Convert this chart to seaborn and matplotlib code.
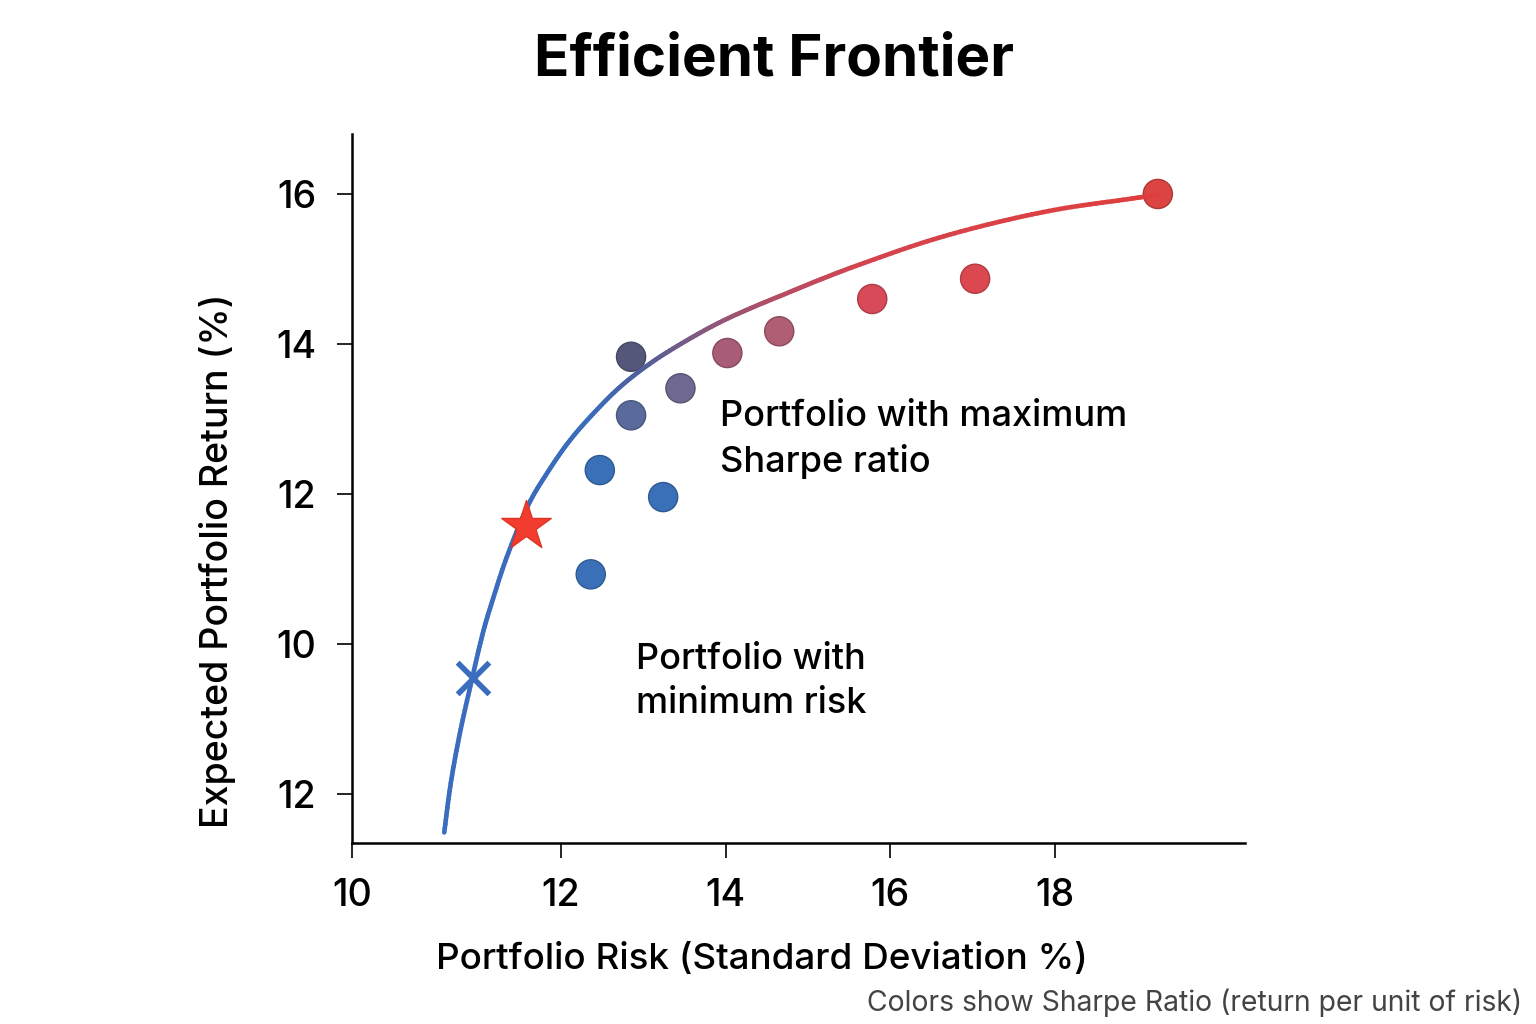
import numpy as np
import matplotlib
matplotlib.use("Agg")
import matplotlib.pyplot as plt
from matplotlib.collections import LineCollection
from matplotlib.colors import LinearSegmentedColormap, Normalize
from matplotlib.markers import MarkerStyle
import seaborn as sns

# ---------------- data ----------------
frontier_risk = [10.58, 10.66, 10.77, 10.92, 11.05, 11.16, 11.34, 11.59, 11.83,
                 12.11, 12.44, 12.75, 13.12, 13.53, 13.93, 14.33, 14.75, 15.15,
                 15.63, 16.45, 17.25, 18.06, 18.88, 19.25]
frontier_return = [7.49, 8.15, 8.81, 9.55, 10.15, 10.56, 11.16, 11.83, 12.28,
                   12.72, 13.13, 13.46, 13.77, 14.05, 14.29, 14.49, 14.68, 14.86,
                   15.06, 15.37, 15.61, 15.80, 15.93, 15.99]

portfolio_risk = [12.85, 13.45, 12.85, 12.47, 13.24, 12.36, 14.02, 14.65, 15.78, 17.03, 19.25]
portfolio_return = [13.83, 13.41, 13.05, 12.32, 11.96, 10.93, 13.88, 14.17, 14.60, 14.87, 16.00]
sharpe_score = [0.40, 0.50, 0.30, 0.00, 0.00, 0.00, 0.65, 0.72, 0.85, 0.92, 1.00]

max_sharpe_risk = [11.575]
max_sharpe_return = [11.57]
min_risk_risk = [10.93]
min_risk_return = [9.55]

x_ticks = [9.46, 12, 14, 16, 18]
x_tick_labels = ["10", "12", "14", "16", "18"]
y_ticks = [8, 10, 12, 14, 16]
y_tick_labels = ["12", "10", "12", "14", "16"]

title = "Efficient Frontier"
x_label = "Portfolio Risk (Standard Deviation %)"
y_label = "Expected Portfolio Return (%)"
note_max = "Portfolio with maximum\nSharpe ratio"
note_min = "Portfolio with\nminimum risk"
footer = "Colors show Sharpe Ratio (return per unit of risk)"

# ---------------- style ----------------
sns.set_theme(style="ticks")
plt.rcParams["font.family"] = ["Inter", "DejaVu Sans"]

fig = plt.figure(figsize=(15.36, 10.24), dpi=100)
fig.patch.set_facecolor("white")
ax = fig.add_axes([0.2292, 0.1768, 0.5814, 0.6924])
ax.set_facecolor("white")

# colour map for dots (Sharpe score)
dot_cmap = LinearSegmentedColormap.from_list(
    "sharpe",
    [(0.00, "#3a70b8"), (0.30, "#5a6a9c"), (0.40, "#55577a"), (0.50, "#6e6890"),
     (0.65, "#a85c78"), (0.72, "#b05e74"), (0.85, "#d84a58"), (0.92, "#dc4850"),
     (1.00, "#dc4444")])

sns.scatterplot(x=portfolio_risk, y=portfolio_return, hue=sharpe_score,
                palette=dot_cmap, hue_norm=(0, 1), s=440, linewidth=1.0,
                legend=False, ax=ax, zorder=3)
dots = ax.collections[-1]
fc = np.array(dots.get_facecolors())
ec = fc.copy()
ec[:, :3] = ec[:, :3] * 0.8
dots.set_edgecolors(ec)


# smooth rendering of the read frontier points (Catmull-Rom through them)
def smooth_path(xs, ys, steps=12):
    p = np.column_stack([xs, ys]).astype(float)
    p = np.vstack([2 * p[0] - p[1], p, 2 * p[-1] - p[-2]])
    out = []
    t = np.linspace(0, 1, steps, endpoint=False)[:, None]
    for i in range(1, len(p) - 2):
        p0, p1, p2, p3 = p[i - 1], p[i], p[i + 1], p[i + 2]
        seg = 0.5 * ((2 * p1) + (-p0 + p2) * t + (2 * p0 - 5 * p1 + 4 * p2 - p3) * t ** 2
                     + (-p0 + 3 * p1 - 3 * p2 + p3) * t ** 3)
        out.append(seg)
    out.append(p[-2][None, :])
    return np.vstack(out)


curve_cmap = LinearSegmentedColormap.from_list(
    "frontier",
    [(0.0, "#3a6dbe"), (0.216, "#3b6cbb"), (0.284, "#505f98"), (0.364, "#85597f"),
     (0.443, "#ac506b"), (0.58, "#d4444f"), (1.0, "#e03e3c")])
pts = smooth_path(frontier_risk, frontier_return)
segs = np.stack([pts[:-1], pts[1:]], axis=1)
mid_x = (pts[:-1, 0] + pts[1:, 0]) / 2
lc = LineCollection(segs, cmap=curve_cmap, norm=Normalize(10.5, 19.3),
                    linewidths=3.3, capstyle="round", joinstyle="round", zorder=4)
lc.set_array(mid_x)
ax.add_collection(lc)

# special portfolios
sns.scatterplot(x=max_sharpe_risk, y=max_sharpe_return, marker="*", s=1400,
                color="#f23c30", edgecolor="#e03424", linewidth=1.0,
                legend=False, ax=ax, zorder=5)
ax.scatter(min_risk_risk, min_risk_return, marker=MarkerStyle("x", capstyle="round"),
           s=520, linewidths=4.0, color="#3a6dbe", zorder=5)

# annotations
ax.text(13.932, 13.26, note_max, ha="left", va="top", fontsize=26,
        fontweight="medium", linespacing=1.40, color="black")
ax.text(12.911, 10.02, note_min, ha="left", va="top", fontsize=26,
        fontweight="medium", linespacing=1.42, color="black")

# axes
ax.set_xlim(9.46, 20.31)
ax.set_ylim(7.35, 16.8)
ax.set_xticks(x_ticks, labels=x_tick_labels)
ax.set_yticks(y_ticks, labels=y_tick_labels)
ax.tick_params(axis="both", length=11, width=1.2, color="black",
               labelsize=27, labelcolor="black", direction="out")
ax.tick_params(axis="y", pad=15)
ax.tick_params(axis="x", pad=14)
for lab in ax.get_xticklabels() + ax.get_yticklabels():
    lab.set_fontweight("medium")
sns.despine(ax=ax)
for side in ("left", "bottom"):
    ax.spines[side].set_linewidth(1.8)
    ax.spines[side].set_color("black")

ax.set_xlabel(x_label, fontsize=26.5, fontweight="medium", color="black", va="center")
ax.xaxis.set_label_coords(0.459, -0.164)
ax.set_ylabel(y_label, fontsize=27, fontweight="medium", color="black", va="center")
ax.yaxis.set_label_coords(-0.151, 0.398)

fig.text(0.5036, 1 - 60 / 1024, title, ha="center", va="center",
         fontsize=42, fontweight="bold", color="black")
fig.text(0.9909, 1 - 1003 / 1024, footer, ha="right", va="center",
         fontsize=20.4, color="#444444")

fig.savefig("out.png", dpi=100, facecolor="white")
